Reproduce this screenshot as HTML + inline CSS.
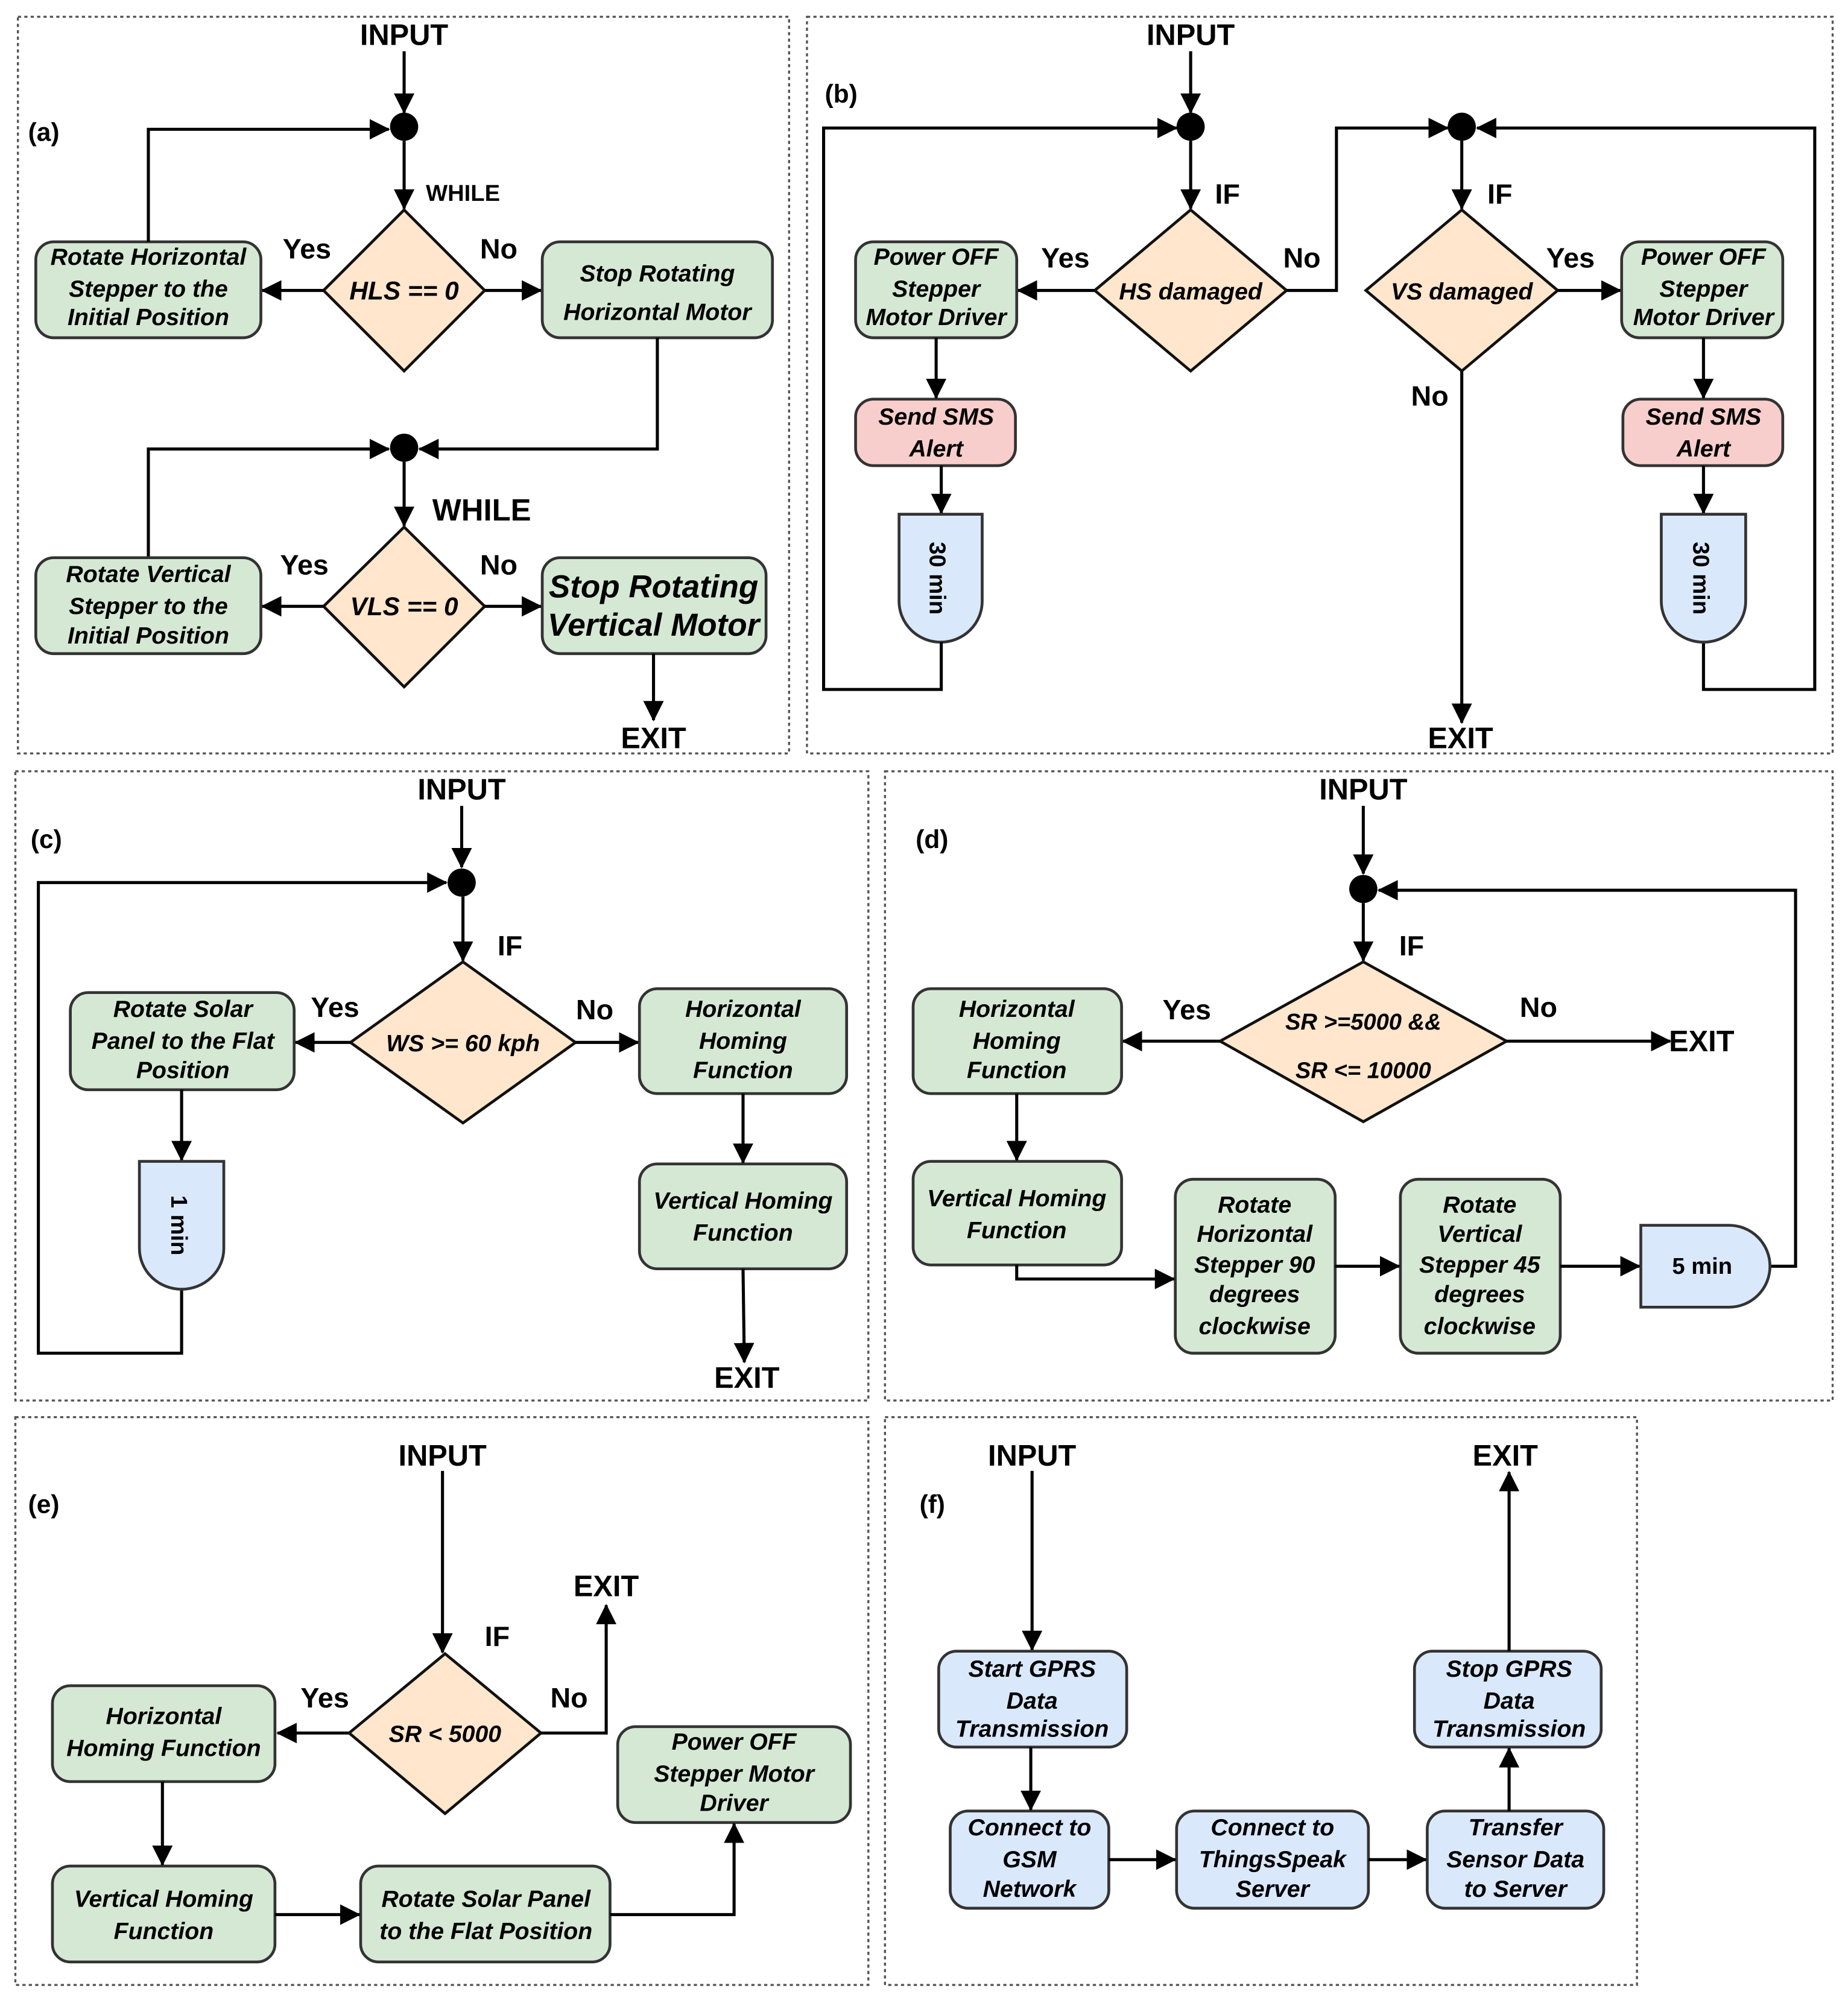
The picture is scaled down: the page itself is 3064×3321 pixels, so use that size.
<!DOCTYPE html>
<html><head><meta charset="utf-8"><style>
html,body{margin:0;padding:0;background:#fff}
svg{display:block}
text{font-family:"Liberation Sans",Arial,sans-serif;font-weight:bold;fill:#000}
.b text,.bt{font-style:italic;font-size:18.5px}
.lbl{font-size:22px}
.io{font-size:23px}
.pn{font-size:20px}
.g{fill:#d5e8d4;stroke:#333;stroke-width:2.2}
.o{fill:#ffe6cc;stroke:#111;stroke-width:2.2}
.r{fill:#f8cecc;stroke:#333;stroke-width:2.2}
.u{fill:#dae8fc;stroke:#333;stroke-width:2.2}
.l{fill:none;stroke:#000;stroke-width:2.4}
.f{fill:none;stroke:#555;stroke-width:1.6;stroke-dasharray:2.5 2.5}
</style></head><body>
<svg width="3064" height="3321" viewBox="0 0 1445 1566" xmlns="http://www.w3.org/2000/svg">
<defs><marker id="a" markerUnits="userSpaceOnUse" markerWidth="16" markerHeight="16" refX="15" refY="8" orient="auto"><path d="M0,0 L16,8 L0,16 Z" fill="#000"/></marker></defs>

<!-- frames -->
<rect class="f" x="14" y="13" width="603" height="576"/>
<rect class="f" x="631" y="13" width="802" height="576"/>
<rect class="f" x="12" y="603" width="667" height="492"/>
<rect class="f" x="692" y="603" width="741" height="492"/>
<rect class="f" x="12" y="1108" width="667" height="444"/>
<rect class="f" x="692" y="1108" width="588" height="444"/>

<!-- (a) -->
<text class="io" x="316" y="35" text-anchor="middle">INPUT</text>
<text class="pn" x="22" y="110">(a)</text>
<path class="l" d="M316,40 V88" marker-end="url(#a)"/>
<circle cx="316" cy="99" r="11"/>
<path class="l" d="M316,110 V163" marker-end="url(#a)"/>
<text x="333" y="157" style="font-size:18px">WHILE</text>
<polygon class="o" points="316,164 379,227 316,290 253,227"/>
<text class="bt" x="316" y="234" text-anchor="middle" style="font-size:20px">HLS == 0</text>
<path class="l" d="M253,227 H205" marker-end="url(#a)"/>
<path class="l" d="M379,227 H423" marker-end="url(#a)"/>
<text class="lbl" x="240" y="202" text-anchor="middle">Yes</text>
<text class="lbl" x="390" y="202" text-anchor="middle">No</text>
<g class="b"><rect class="g" x="28" y="189" width="176" height="75" rx="14"/>
<text x="116" y="207" text-anchor="middle">Rotate Horizontal</text><text x="116" y="232" text-anchor="middle">Stepper to the</text><text x="116" y="254" text-anchor="middle">Initial Position</text>
<rect class="g" x="424" y="189" width="180" height="75" rx="14"/>
<text x="514" y="220" text-anchor="middle">Stop Rotating</text><text x="514" y="250" text-anchor="middle">Horizontal Motor</text></g>
<path class="l" d="M116,189 V101 H304" marker-end="url(#a)"/>
<path class="l" d="M514,264 V351 H328" marker-end="url(#a)"/>
<circle cx="316" cy="350" r="11"/>
<path class="l" d="M116,436 V351 H304" marker-end="url(#a)"/>
<path class="l" d="M316,361 V411" marker-end="url(#a)"/>
<text x="338" y="407" style="font-size:24px">WHILE</text>
<polygon class="o" points="316,412 379,474 316,537 253,474"/>
<text class="bt" x="316" y="481" text-anchor="middle" style="font-size:20px">VLS == 0</text>
<path class="l" d="M253,474 H205" marker-end="url(#a)"/>
<path class="l" d="M379,474 H423" marker-end="url(#a)"/>
<text class="lbl" x="238" y="449" text-anchor="middle">Yes</text>
<text class="lbl" x="390" y="449" text-anchor="middle">No</text>
<g class="b"><rect class="g" x="28" y="436" width="176" height="75" rx="14"/>
<text x="116" y="455" text-anchor="middle">Rotate Vertical</text><text x="116" y="480" text-anchor="middle">Stepper to the</text><text x="116" y="503" text-anchor="middle">Initial Position</text>
<rect class="g" x="424" y="436" width="175" height="75" rx="14"/>
<text x="511" y="467" text-anchor="middle" style="font-size:25px">Stop Rotating</text><text x="511" y="497" text-anchor="middle" style="font-size:25px">Vertical Motor</text></g>
<path class="l" d="M511,511 V563" marker-end="url(#a)"/>
<text class="io" x="511" y="585" text-anchor="middle">EXIT</text>

<!-- (b) -->
<text class="io" x="931" y="35" text-anchor="middle">INPUT</text>
<text class="pn" x="645" y="80">(b)</text>
<path class="l" d="M931,40 V88" marker-end="url(#a)"/>
<circle cx="931" cy="99" r="11"/>
<path class="l" d="M931,110 V163" marker-end="url(#a)"/>
<text class="lbl" x="950" y="159">IF</text>
<polygon class="o" points="931,164 1006,227 931,290 856,227"/>
<text class="bt" x="931" y="234" text-anchor="middle">HS damaged</text>
<path class="l" d="M856,227 H796" marker-end="url(#a)"/>
<text class="lbl" x="833" y="209" text-anchor="middle">Yes</text>
<text class="lbl" x="1018" y="209" text-anchor="middle">No</text>
<path class="l" d="M1006,227 H1045 V100 H1132" marker-end="url(#a)"/>
<g class="b"><rect class="g" x="669" y="189" width="126" height="75" rx="14"/>
<text x="732" y="207" text-anchor="middle">Power OFF</text><text x="732" y="232" text-anchor="middle">Stepper</text><text x="732" y="254" text-anchor="middle">Motor Driver</text>
<rect class="r" x="669" y="312" width="125" height="52" rx="14"/>
<text x="732" y="332" text-anchor="middle">Send SMS</text><text x="732" y="357" text-anchor="middle">Alert</text></g>
<path class="l" d="M732,264 V311" marker-end="url(#a)"/>
<path class="l" d="M736,364 V401" marker-end="url(#a)"/>
<path class="u" d="M703,402 H768 V470 A32.5,32 0 0 1 703,470 Z"/>
<text x="0" y="0" transform="translate(727,452) rotate(90)" text-anchor="middle" style="font-size:18px">30 min</text>
<path class="l" d="M736,502 V539 H644 V100 H920" marker-end="url(#a)"/>
<circle cx="1143" cy="99" r="11"/>
<path class="l" d="M1332,502 V539 H1419 V100 H1155" marker-end="url(#a)"/>
<path class="l" d="M1143,110 V163" marker-end="url(#a)"/>
<text class="lbl" x="1163" y="159">IF</text>
<polygon class="o" points="1143,164 1218,227 1143,290 1068,227"/>
<text class="bt" x="1143" y="234" text-anchor="middle">VS damaged</text>
<path class="l" d="M1218,227 H1267" marker-end="url(#a)"/>
<text class="lbl" x="1228" y="209" text-anchor="middle">Yes</text>
<text class="lbl" x="1118" y="317" text-anchor="middle">No</text>
<path class="l" d="M1143,290 V565" marker-end="url(#a)"/>
<text class="io" x="1142" y="585" text-anchor="middle">EXIT</text>
<g class="b"><rect class="g" x="1268" y="189" width="126" height="75" rx="14"/>
<text x="1332" y="207" text-anchor="middle">Power OFF</text><text x="1332" y="232" text-anchor="middle">Stepper</text><text x="1332" y="254" text-anchor="middle">Motor Driver</text>
<rect class="r" x="1269" y="312" width="125" height="52" rx="14"/>
<text x="1332" y="332" text-anchor="middle">Send SMS</text><text x="1332" y="357" text-anchor="middle">Alert</text></g>
<path class="l" d="M1332,264 V311" marker-end="url(#a)"/>
<path class="l" d="M1332,364 V401" marker-end="url(#a)"/>
<path class="u" d="M1299,402 H1365 V470 A33,32 0 0 1 1299,470 Z"/>
<text x="0" y="0" transform="translate(1324,452) rotate(90)" text-anchor="middle" style="font-size:18px">30 min</text>

<!-- (c) -->
<text class="io" x="361" y="625" text-anchor="middle">INPUT</text>
<text class="pn" x="24" y="663">(c)</text>
<path class="l" d="M361,630 V678" marker-end="url(#a)"/>
<circle cx="361" cy="690" r="11"/>
<path class="l" d="M142,1008 V1058 H30 V690 H349" marker-end="url(#a)"/>
<path class="l" d="M362,701 V751" marker-end="url(#a)"/>
<text class="lbl" x="389" y="747">IF</text>
<polygon class="o" points="362,752 450,815 362,878 274,815"/>
<text class="bt" x="362" y="822" text-anchor="middle">WS &gt;= 60 kph</text>
<path class="l" d="M274,815 H231" marker-end="url(#a)"/>
<path class="l" d="M450,815 H499" marker-end="url(#a)"/>
<text class="lbl" x="262" y="795" text-anchor="middle">Yes</text>
<text class="lbl" x="465" y="797" text-anchor="middle">No</text>
<g class="b"><rect class="g" x="55" y="776" width="175" height="76" rx="14"/>
<text x="143" y="795" text-anchor="middle">Rotate Solar</text><text x="143" y="820" text-anchor="middle">Panel to the Flat</text><text x="143" y="843" text-anchor="middle">Position</text>
<rect class="g" x="500" y="773" width="162" height="82" rx="14"/>
<text x="581" y="795" text-anchor="middle">Horizontal</text><text x="581" y="820" text-anchor="middle">Homing</text><text x="581" y="843" text-anchor="middle">Function</text>
<rect class="g" x="500" y="910" width="162" height="82" rx="14"/>
<text x="581" y="945" text-anchor="middle">Vertical Homing</text><text x="581" y="970" text-anchor="middle">Function</text></g>
<path class="l" d="M581,855 V909" marker-end="url(#a)"/>
<path class="l" d="M581,992 L582,1065" marker-end="url(#a)"/>
<text class="io" x="584" y="1085" text-anchor="middle">EXIT</text>
<path class="l" d="M142,852 V907" marker-end="url(#a)"/>
<path class="u" d="M109,908 H175 V976 A33,32 0 0 1 109,976 Z"/>
<text x="0" y="0" transform="translate(134,958) rotate(90)" text-anchor="middle" style="font-size:18px">1 min</text>

<!-- (d) -->
<text class="io" x="1066" y="625" text-anchor="middle">INPUT</text>
<text class="pn" x="716" y="663">(d)</text>
<path class="l" d="M1066,630 V683" marker-end="url(#a)"/>
<circle cx="1066" cy="695" r="11"/>
<path class="l" d="M1384,990 H1404 V696 H1078" marker-end="url(#a)"/>
<path class="l" d="M1066,706 V751" marker-end="url(#a)"/>
<text class="lbl" x="1094" y="747">IF</text>
<polygon class="o" points="1066,752 1178,814 1066,877 954,814"/>
<text class="bt" x="1066" y="805" text-anchor="middle" style="font-size:18px">SR &gt;=5000 &amp;&amp;</text>
<text class="bt" x="1066" y="843" text-anchor="middle" style="font-size:18px">SR &lt;= 10000</text>
<path class="l" d="M1178,814 H1306" marker-end="url(#a)"/>
<text class="io" x="1305" y="822">EXIT</text>
<text class="lbl" x="1203" y="795" text-anchor="middle">No</text>
<text class="lbl" x="928" y="797" text-anchor="middle">Yes</text>
<path class="l" d="M954,814 H878" marker-end="url(#a)"/>
<g class="b"><rect class="g" x="714" y="773" width="163" height="82" rx="14"/>
<text x="795" y="795" text-anchor="middle">Horizontal</text><text x="795" y="820" text-anchor="middle">Homing</text><text x="795" y="843" text-anchor="middle">Function</text>
<rect class="g" x="714" y="908" width="163" height="81" rx="14"/>
<text x="795" y="943" text-anchor="middle">Vertical Homing</text><text x="795" y="968" text-anchor="middle">Function</text>
<rect class="g" x="919" y="922" width="125" height="136" rx="14"/>
<text x="981" y="948" text-anchor="middle">Rotate</text><text x="981" y="971" text-anchor="middle">Horizontal</text><text x="981" y="995" text-anchor="middle">Stepper 90</text><text x="981" y="1018" text-anchor="middle">degrees</text><text x="981" y="1043" text-anchor="middle">clockwise</text>
<rect class="g" x="1095" y="922" width="125" height="136" rx="14"/>
<text x="1157" y="948" text-anchor="middle">Rotate</text><text x="1157" y="971" text-anchor="middle">Vertical</text><text x="1157" y="995" text-anchor="middle">Stepper 45</text><text x="1157" y="1018" text-anchor="middle">degrees</text><text x="1157" y="1043" text-anchor="middle">clockwise</text></g>
<path class="l" d="M795,855 V907" marker-end="url(#a)"/>
<path class="l" d="M795,989 V1000 H918" marker-end="url(#a)"/>
<path class="l" d="M1044,990 H1094" marker-end="url(#a)"/>
<path class="l" d="M1220,990 H1282" marker-end="url(#a)"/>
<path class="u" d="M1283,958 H1352 A32,32 0 0 1 1352,1022 H1283 Z"/>
<text x="1331" y="996" text-anchor="middle" style="font-size:18px">5 min</text>

<!-- (e) -->
<text class="io" x="346" y="1146" text-anchor="middle">INPUT</text>
<text class="pn" x="22" y="1183">(e)</text>
<path class="l" d="M346,1150 V1292" marker-end="url(#a)"/>
<text class="lbl" x="379" y="1287">IF</text>
<polygon class="o" points="348,1293 423,1355 348,1418 273,1355"/>
<text class="bt" x="348" y="1362" text-anchor="middle">SR &lt; 5000</text>
<path class="l" d="M423,1355 H474 V1255" marker-end="url(#a)"/>
<text class="io" x="474" y="1248" text-anchor="middle">EXIT</text>
<text class="lbl" x="445" y="1335" text-anchor="middle">No</text>
<text class="lbl" x="254" y="1335" text-anchor="middle">Yes</text>
<path class="l" d="M273,1355 H217" marker-end="url(#a)"/>
<g class="b"><rect class="g" x="41" y="1318" width="174" height="75" rx="14"/>
<text x="128" y="1348" text-anchor="middle">Horizontal</text><text x="128" y="1373" text-anchor="middle">Homing Function</text>
<rect class="g" x="41" y="1459" width="174" height="75" rx="14"/>
<text x="128" y="1491" text-anchor="middle">Vertical Homing</text><text x="128" y="1516" text-anchor="middle">Function</text>
<rect class="g" x="282" y="1459" width="195" height="75" rx="14"/>
<text x="380" y="1491" text-anchor="middle">Rotate Solar Panel</text><text x="380" y="1516" text-anchor="middle">to the Flat Position</text>
<rect class="g" x="483" y="1350" width="182" height="75" rx="14"/>
<text x="574" y="1368" text-anchor="middle">Power OFF</text><text x="574" y="1393" text-anchor="middle">Stepper Motor</text><text x="574" y="1416" text-anchor="middle">Driver</text></g>
<path class="l" d="M127,1393 V1458" marker-end="url(#a)"/>
<path class="l" d="M215,1497 H281" marker-end="url(#a)"/>
<path class="l" d="M477,1497 H574 V1426" marker-end="url(#a)"/>

<!-- (f) -->
<text class="io" x="807" y="1146" text-anchor="middle">INPUT</text>
<text class="pn" x="719" y="1183">(f)</text>
<path class="l" d="M807,1150 V1290" marker-end="url(#a)"/>
<text class="io" x="1177" y="1146" text-anchor="middle">EXIT</text>
<g class="b"><rect class="u" x="734" y="1291" width="147" height="75" rx="14"/>
<text x="807" y="1311" text-anchor="middle">Start GPRS</text><text x="807" y="1336" text-anchor="middle">Data</text><text x="807" y="1358" text-anchor="middle">Transmission</text>
<rect class="u" x="743" y="1416" width="124" height="76" rx="14"/>
<text x="805" y="1435" text-anchor="middle">Connect to</text><text x="805" y="1460" text-anchor="middle">GSM</text><text x="805" y="1483" text-anchor="middle">Network</text>
<rect class="u" x="920" y="1416" width="150" height="76" rx="14"/>
<text x="995" y="1435" text-anchor="middle">Connect to</text><text x="995" y="1460" text-anchor="middle">ThingsSpeak</text><text x="995" y="1483" text-anchor="middle">Server</text>
<rect class="u" x="1116" y="1416" width="138" height="76" rx="14"/>
<text x="1185" y="1435" text-anchor="middle">Transfer</text><text x="1185" y="1460" text-anchor="middle">Sensor Data</text><text x="1185" y="1483" text-anchor="middle">to Server</text>
<rect class="u" x="1106" y="1291" width="146" height="75" rx="14"/>
<text x="1180" y="1311" text-anchor="middle">Stop GPRS</text><text x="1180" y="1336" text-anchor="middle">Data</text><text x="1180" y="1358" text-anchor="middle">Transmission</text></g>
<path class="l" d="M806,1366 V1415" marker-end="url(#a)"/>
<path class="l" d="M867,1454 H919" marker-end="url(#a)"/>
<path class="l" d="M1070,1454 H1115" marker-end="url(#a)"/>
<path class="l" d="M1180,1416 V1367" marker-end="url(#a)"/>
<path class="l" d="M1180,1291 V1151" marker-end="url(#a)"/>
</svg>
</body></html>
